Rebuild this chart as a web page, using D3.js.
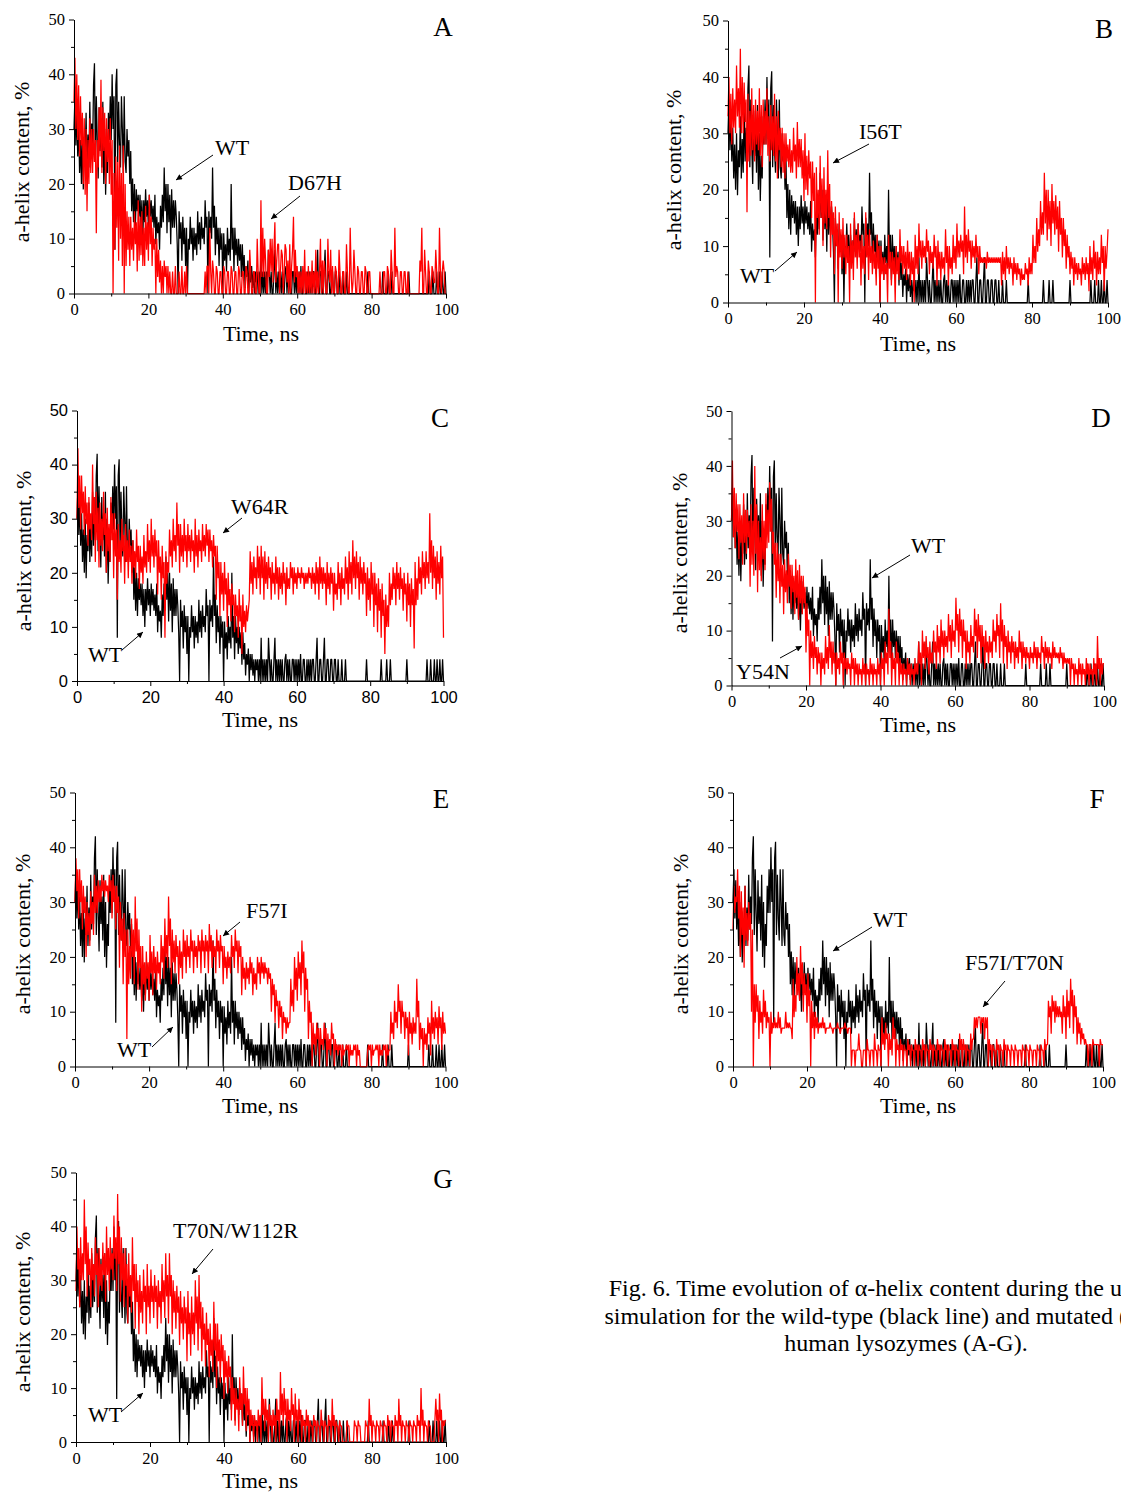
<!DOCTYPE html>
<html>
<head>
<meta charset="utf-8">
<script src="https://cdn.jsdelivr.net/npm/d3@7"></script>
<style>
  html, body { margin: 0; padding: 0; background: #fff; }
  svg { display: block; }
</style>
</head>
<body>
<svg id="fig" width="1121" height="1492"></svg>
<script>
// Each trace is sampled evenly over the 0-100 ns run (one row = 5 ns).
const runLength = 100;

// Wild-type lysozyme, alpha-helix content (%), shared by all panels
const wt = [
  30,36,27,34,25,31,22,28,20,30,19,27,24,33,22,29,23,35,25,31,
  26,38,42,24,36,28,21,34,26,31,23,35,20,30,18,26,22,33,28,36,
  28,40,30,36,8,38,41,24,35,27,23,36,30,22,36,24,22,30,25,28,
  20,26,15,21,13,20,12,19,15,18,14,18,12,17,10,17,13,19,14,17,
  12,18,14,17,13,16,12,18,9,14,11,13,8,16,12,18,13,23,15,20,
  11,20,13,18,9,19,12,17,12,17,14,9,0,15,10,13,6,14,9,12,
  5,12,0,10,8,14,9,12,6,12,8,11,7,15,9,13,8,14,10,12,
  9,17,12,14,0,15,11,14,10,23,12,16,7,14,9,12,5,12,8,11,
  0,11,6,9,4,12,7,10,6,20,8,12,4,12,7,10,5,10,6,9,
  3,9,4,7,1,5,3,6,0,5,2,5,1,4,0,4,2,4,0,4,
  0,8,0,4,0,4,0,4,0,8,4,0,4,0,0,4,8,0,4,0,
  4,0,4,0,4,0,0,4,5,0,4,0,4,0,0,4,4,0,4,0,
  4,0,4,0,5,0,0,4,4,0,0,4,0,4,0,4,0,4,4,0,
  0,4,8,0,0,4,4,0,0,4,8,0,0,4,4,0,0,4,4,0,
  0,4,4,0,0,4,0,0,0,4,0,0,0,4,0,0,0,0,0,0,
  0,0,0,0,0,0,0,0,0,0,0,0,0,0,0,0,4,0,0,0,
  0,0,0,0,0,0,0,0,0,0,0,0,4,0,0,0,0,0,4,0,
  0,0,4,0,0,0,0,0,0,0,0,0,0,0,0,0,0,0,0,0,
  4,0,0,0,0,0,0,0,0,0,0,0,0,0,0,0,0,0,0,0,
  0,0,4,0,0,0,4,0,0,0,4,0,0,4,0,0,4,0,0,4,
  0
];

// Mutant lysozymes
const d67h = [
  35,43,30,40,28,38,25,36,27,33,20,32,18,30,15,28,20,32,22,30,
  22,30,24,28,11,28,23,34,25,39,22,34,26,33,20,32,24,30,20,32,
  18,28,0,22,8,25,12,24,6,27,10,22,5,27,0,20,5,15,8,14,
  5,14,8,12,6,15,9,13,4,17,6,14,7,15,5,12,5,16,8,13,
  6,18,9,14,5,12,8,10,0,10,3,8,2,6,0,5,0,6,3,5,
  0,5,0,4,0,0,4,0,0,5,0,0,0,4,0,0,5,0,0,4,
  0,5,0,0,0,0,0,0,0,0,0,0,0,0,0,0,0,0,0,0,
  0,4,0,5,5,0,12,4,0,6,4,0,0,5,4,0,0,4,4,0,
  0,5,4,0,0,4,4,0,0,5,4,0,0,4,4,0,0,5,4,0,
  0,4,4,0,0,5,4,0,0,8,4,0,0,4,4,0,0,10,4,0,
  0,17,3,12,3,10,6,0,0,8,3,10,4,10,2,8,13,2,6,9,
  9,0,4,8,7,0,4,9,8,2,6,0,9,0,5,8,14,2,8,3,
  5,0,4,0,4,0,5,0,8,0,4,0,5,0,4,0,6,0,4,0,
  8,0,4,0,4,10,0,6,0,6,4,0,0,10,4,2,8,0,5,0,
  0,5,4,0,0,8,4,0,0,4,4,0,0,9,4,0,0,12,4,0,
  2,8,4,0,0,5,4,0,0,4,4,0,0,5,4,0,0,4,4,0,
  0,0,0,0,0,0,0,0,0,4,0,0,0,4,4,0,0,5,4,0,
  0,8,4,0,0,12,3,5,4,0,0,4,4,0,0,4,4,0,0,4,
  0,0,0,0,0,0,0,0,0,0,0,0,6,4,12,0,0,8,4,0,
  0,6,4,0,0,5,4,2,2,8,4,0,0,12,4,0,4,6,4,0,
  0
];

const i56t = [
  33,40,30,37,28,38,31,36,30,42,33,38,31,45,30,40,30,39,32,36,
  16,37,25,34,26,38,27,35,25,36,28,34,27,38,26,35,24,36,28,34,
  28,38,26,33,25,35,27,33,26,37,25,33,22,34,27,31,24,31,23,30,
  22,30,25,28,24,29,23,27,23,31,25,28,22,32,24,29,24,29,22,27,
  18,30,20,26,19,27,22,25,15,25,18,23,0,24,15,20,12,26,15,22,
  10,24,14,20,13,27,15,21,8,18,12,16,5,17,10,14,0,16,8,13,
  6,15,8,12,5,12,7,10,0,14,6,11,4,16,8,12,6,14,8,11,
  3,12,6,10,5,16,8,12,4,13,7,10,5,11,6,9,3,12,6,10,
  0,10,5,8,4,8,5,7,0,12,6,9,3,9,5,8,0,10,5,8,
  4,13,7,10,5,10,6,9,4,11,6,9,3,9,5,8,0,12,6,10,
  5,14,8,11,6,11,8,10,7,13,9,11,5,10,7,9,6,12,8,10,
  3,11,6,9,4,9,6,8,5,13,7,10,3,10,6,8,5,12,7,10,
  6,14,8,11,8,12,9,11,5,17,8,12,7,13,9,11,6,11,8,10,
  7,12,8,10,5,10,7,8,7,8,7,8,6,9,7,8,7,8,7,8,
  7,8,7,8,7,8,7,8,3,9,5,8,4,10,6,8,5,8,6,7,
  3,8,5,7,4,7,5,6,3,6,4,5,4,7,5,6,3,8,5,7,
  5,12,7,10,7,15,9,13,10,18,12,16,12,23,14,20,11,20,13,18,
  10,21,14,18,12,19,13,17,9,18,12,15,8,15,10,13,6,12,8,10,
  5,9,6,8,3,8,5,7,4,7,5,6,3,8,5,7,4,8,5,7,
  2,10,5,8,4,11,6,9,3,9,5,8,5,12,7,10,2,10,6,9,
  13
];

const w64r = [
  30,43,32,38,28,38,31,35,27,36,29,33,25,34,28,31,26,40,29,34,
  22,35,26,32,21,33,25,30,24,35,27,31,20,32,24,29,22,34,26,31,
  19,31,23,28,15,29,22,26,20,30,24,27,18,29,22,26,19,28,22,25,
  18,26,21,24,19,28,22,25,17,25,20,23,18,27,21,24,20,29,22,26,
  20,30,23,27,21,28,23,26,16,26,20,23,15,25,19,22,8,24,18,22,
  20,28,23,26,21,30,24,27,22,33,25,29,20,29,23,27,22,30,24,27,
  21,29,24,27,22,28,24,26,20,30,23,27,21,28,24,26,22,29,24,27,
  23,29,25,28,22,28,24,26,21,27,23,25,15,25,19,22,12,22,16,20,
  13,22,16,19,10,20,14,17,11,18,14,16,9,16,12,14,8,17,11,14,
  5,16,10,13,9,14,11,13,15,24,18,22,16,23,19,21,17,25,19,23,
  16,25,19,23,15,24,18,22,17,23,19,21,15,22,18,20,16,23,18,21,
  15,21,17,20,16,22,18,20,14,21,17,19,17,22,19,21,16,21,18,20,
  17,21,19,20,18,21,19,20,17,20,18,20,18,21,19,20,17,21,18,20,
  16,22,18,21,15,23,18,21,17,21,18,20,14,22,17,20,16,21,18,20,
  13,20,16,18,15,22,17,20,14,21,17,19,16,23,18,21,15,24,18,22,
  16,26,19,23,17,24,19,22,15,23,18,21,16,22,18,20,12,21,15,19,
  13,22,16,20,10,20,14,18,9,19,13,17,8,18,12,15,5,16,10,14,
  10,20,14,18,15,21,17,20,14,22,17,20,15,21,17,19,13,20,16,18,
  11,20,14,18,10,19,14,17,6,22,14,19,15,23,18,21,16,24,19,22,
  17,24,19,22,18,31,20,26,17,25,19,23,15,24,18,22,16,25,19,23,
  8
];

const y54n = [
  30,41,27,36,25,35,28,33,23,33,26,31,22,35,26,32,24,32,27,30,
  18,33,22,30,20,40,24,33,17,30,21,27,19,33,23,30,21,35,25,32,
  26,37,28,34,24,28,22,26,16,26,19,24,15,24,18,22,13,23,17,21,
  15,24,18,22,14,22,17,20,13,23,16,21,12,22,15,20,13,20,15,18,
  6,15,9,12,0,10,5,8,3,9,5,7,2,7,4,6,0,6,3,5,
  2,9,4,7,3,11,5,8,2,8,4,6,0,6,3,5,2,8,4,6,
  0,6,3,5,2,5,3,4,0,6,3,5,0,5,2,4,0,4,2,3,
  0,5,2,4,0,4,2,3,0,5,2,4,0,4,2,3,0,5,2,4,
  0,6,3,5,0,8,4,6,2,14,5,8,0,6,3,5,0,8,4,6,
  0,5,2,4,0,4,2,3,0,5,2,4,0,4,2,3,0,5,2,4,
  2,8,4,6,0,10,5,8,3,9,5,7,2,8,4,6,4,10,6,8,
  3,11,6,9,4,12,7,10,5,10,7,9,6,13,8,11,5,12,8,10,
  7,16,10,13,6,14,9,12,5,12,8,10,3,10,6,8,4,11,7,9,
  6,14,9,12,5,13,8,11,4,11,7,9,3,10,6,8,4,9,6,8,
  5,12,8,10,6,13,9,11,5,15,8,12,4,11,7,9,3,10,6,8,
  4,9,6,8,3,8,5,7,4,10,6,8,3,8,5,7,4,7,5,6,
  3,7,5,6,4,8,5,7,3,7,5,6,4,9,6,7,3,8,5,7,
  4,7,5,6,3,8,5,7,5,6,5,6,4,7,5,6,3,6,4,5,
  4,5,4,5,0,5,3,4,0,4,2,3,0,5,2,4,0,4,2,3,
  0,5,2,4,0,4,2,3,0,5,2,4,0,9,3,5,0,5,2,4,
  4
];

const f57i = [
  30,38,32,36,27,36,30,34,25,33,28,31,20,30,24,28,22,32,26,30,
  24,35,28,33,28,34,30,33,30,35,32,34,31,34,32,33,30,35,32,34,
  27,35,30,33,25,33,28,31,18,30,23,27,15,28,20,25,5,25,15,22,
  16,27,20,25,15,31,21,27,14,25,18,22,10,22,15,19,12,21,16,19,
  12,24,17,21,13,22,17,20,14,21,17,19,15,24,19,22,16,27,20,24,
  18,31,22,27,15,25,19,23,17,24,20,22,15,23,18,21,16,25,20,23,
  17,24,20,22,18,25,21,23,17,23,20,22,18,24,21,23,17,25,21,23,
  18,24,21,23,17,26,21,24,18,23,20,22,17,25,21,23,18,24,21,22,
  15,22,18,20,16,21,18,20,17,24,20,22,18,25,21,23,17,23,20,22,
  13,20,16,18,14,19,16,18,15,20,17,19,13,18,15,17,14,20,17,19,
  15,20,17,19,16,19,17,18,15,18,16,17,10,16,13,15,8,14,11,12,
  7,12,9,11,5,10,8,9,6,9,7,8,8,16,11,14,10,20,14,18,
  12,21,16,19,13,23,17,21,10,18,14,16,5,12,8,10,0,8,4,6,
  2,8,5,7,0,7,4,5,3,8,5,7,0,6,3,5,2,8,5,6,
  0,5,3,4,2,4,3,4,0,4,2,3,3,4,3,4,0,4,2,3,
  2,4,3,4,0,4,2,3,0,0,0,0,0,0,0,0,3,4,3,4,
  0,4,2,3,3,4,3,4,0,4,2,3,2,4,3,4,0,4,2,3,
  3,10,6,8,5,12,8,10,7,15,10,12,6,12,9,10,5,10,7,9,
  2,10,6,8,4,9,6,8,6,16,9,12,3,8,5,7,0,7,4,6,
  3,9,6,8,2,12,6,9,5,10,7,9,4,11,7,9,3,10,6,8,
  6
];

const f57iT70n = [
  25,33,28,31,30,36,27,33,20,32,24,29,18,33,23,28,22,30,25,28,
  10,25,0,15,8,15,10,13,5,12,8,10,6,14,9,12,7,10,8,9,
  0,10,6,8,7,9,7,8,7,10,7,9,6,7,7,7,7,10,7,8,
  7,8,7,7,5,16,9,13,10,20,13,17,12,22,15,19,10,17,13,15,
  8,17,11,14,0,12,7,10,5,10,7,9,6,8,7,8,7,9,7,8,
  6,7,7,7,7,8,7,7,6,7,7,7,7,8,7,7,6,7,7,7,
  7,8,7,7,6,7,7,7,0,3,3,3,0,3,3,3,6,3,3,0,
  0,3,3,3,0,5,3,3,0,3,3,3,0,6,3,3,0,4,3,3,
  0,9,4,6,3,8,5,6,0,6,3,5,2,9,5,7,0,5,3,4,
  0,5,3,4,0,4,3,3,0,5,3,4,0,4,3,3,0,5,3,4,
  0,4,3,3,0,5,3,4,0,4,3,3,0,5,3,4,0,4,3,3,
  0,5,3,4,0,4,3,3,0,5,3,4,0,4,3,3,0,5,3,4,
  0,4,3,3,0,6,3,5,0,5,3,4,0,4,3,3,0,6,3,5,
  5,9,7,9,7,9,9,9,6,9,8,9,5,9,7,9,0,5,3,4,
  0,4,3,3,0,5,3,4,0,4,3,3,0,5,3,4,0,4,3,3,
  0,4,3,3,0,4,3,3,0,3,3,3,0,4,3,3,0,4,3,3,
  0,4,3,3,0,3,3,3,0,4,3,3,0,4,3,3,0,5,3,4,
  4,12,9,11,6,13,10,12,8,12,9,11,9,11,9,10,6,13,9,11,
  5,14,9,12,7,16,11,14,6,13,9,11,4,9,6,8,4,7,5,6,
  4,5,4,4,0,4,4,4,0,5,4,4,4,4,4,4,0,5,4,4,
  4
];

const t70nW112r = [
  28,40,32,36,25,38,30,35,30,45,33,40,27,37,31,34,25,36,30,33,
  27,38,31,35,25,36,29,33,28,37,31,35,26,40,31,36,28,38,32,35,
  30,42,34,38,28,46,33,40,26,38,30,35,25,36,29,33,22,35,27,31,
  24,38,28,33,21,33,26,30,20,31,24,28,22,32,26,29,20,33,25,29,
  22,32,26,29,23,31,26,29,21,30,25,28,22,33,26,30,23,35,27,31,
  22,35,27,31,20,30,24,28,21,29,24,27,18,28,22,25,19,27,22,25,
  15,28,20,24,16,27,20,24,18,30,22,27,17,31,21,26,15,25,19,22,
  14,24,18,21,12,22,16,19,13,26,17,22,10,22,15,19,11,20,15,18,
  8,17,12,15,9,16,12,14,4,12,7,10,3,10,6,8,2,12,6,9,
  3,14,7,10,2,10,5,8,0,6,3,5,0,5,3,4,0,6,3,5,
  0,12,5,8,2,8,4,6,0,7,3,5,0,6,3,5,0,8,4,6,
  0,13,5,9,3,10,5,8,0,8,4,6,2,10,5,7,0,9,4,6,
  0,8,4,6,0,5,3,4,0,6,3,5,0,4,3,3,0,5,3,4,
  0,4,3,3,0,6,3,4,0,4,3,3,0,5,3,4,0,8,3,5,
  0,4,3,3,0,4,3,3,0,0,0,0,0,4,3,3,0,0,0,0,
  0,4,3,3,0,4,3,3,0,0,0,0,0,4,3,3,0,8,3,5,
  0,4,3,3,0,4,3,3,0,4,3,3,0,4,3,3,0,5,3,4,
  0,4,3,3,0,5,3,4,0,8,3,5,0,4,3,3,0,4,3,3,
  0,4,3,3,0,4,3,3,0,5,3,4,0,10,3,6,0,4,3,3,
  0,4,3,3,0,0,0,0,4,8,4,6,0,9,4,6,0,4,3,4,
  4
];

// Panel letters and mutant names
const panelLetters = ["A", "B", "C", "D", "E", "F", "G"];
const mutantNames = ["D67H", "I56T", "W64R", "Y54N", "F57I", "F57I/T70N", "T70N/W112R"];
const mutantSeries = [d67h, i56t, w64r, y54n, f57i, f57iT70n, t70nW112r];

// Axis ticks
const xMajor = [0, 20, 40, 60, 80, 100];
const xMinor = [10, 30, 50, 70, 90];
const yMajor = [0, 10, 20, 30, 40, 50];
const yMinor = [5, 15, 25, 35, 45];

const xTitle = "Time, ns";
const yTitle = "a-helix content, %";
const captionLines = [
  "Fig. 6. Time evolution of \u03b1-helix content during the unfolding",
  "simulation for the wild-type (black line) and mutated (red line)",
  "human lysozymes (A-G)."
];

// Frame of each panel on the page plus label placement
const layout = [
  { x0: 74,  x1: 446,  y0: 293.5, y1: 19.5,
    letter: [443, 36], xt: [261, 341], yt: [29, 162],
    notes: [ { text: "WT", tx: 215, ty: 155, from: [213, 155], to: [176, 180] },
             { text: "D67H", tx: 288, ty: 190, from: [300, 196], to: [271, 219] } ] },
  { x0: 728, x1: 1108, y0: 302.5, y1: 20.5,
    letter: [1104, 38], xt: [918, 351], yt: [681, 170],
    notes: [ { text: "I56T", tx: 859, ty: 139, from: [869, 144], to: [833, 163] },
             { text: "WT", tx: 740, ty: 283, from: [775, 271], to: [797, 252] } ] },
  { x0: 77,  x1: 443.5, y0: 681, y1: 410.5, sans: true,
    letter: [440, 427], xt: [260, 727], yt: [31, 551],
    notes: [ { text: "W64R", tx: 231, ty: 514, from: [242, 518], to: [223, 533] },
             { text: "WT", tx: 88, ty: 662, from: [122, 650], to: [143, 632] } ] },
  { x0: 731.5, x1: 1104, y0: 685.5, y1: 411,
    letter: [1101, 427], xt: [918, 732], yt: [687, 553],
    notes: [ { text: "WT", tx: 911, ty: 553, from: [910, 555], to: [872, 578] },
             { text: "Y54N", tx: 736, ty: 679, from: [780, 658], to: [802, 646] } ] },
  { x0: 75,  x1: 445.5, y0: 1066.5, y1: 792.5,
    letter: [441, 808], xt: [260, 1113], yt: [30, 934],
    notes: [ { text: "F57I", tx: 246, ty: 918, from: [240, 922], to: [223, 936] },
             { text: "WT", tx: 117, ty: 1057, from: [152, 1047], to: [173, 1027] } ] },
  { x0: 733, x1: 1103, y0: 1066.5, y1: 792.5,
    letter: [1097, 808], xt: [918, 1113], yt: [688, 934],
    notes: [ { text: "WT", tx: 873, ty: 927, from: [872, 927], to: [833, 951] },
             { text: "F57I/T70N", tx: 965, ty: 970, from: [1005, 981], to: [983, 1007] } ] },
  { x0: 76,  x1: 446, y0: 1442, y1: 1172.5,
    letter: [443, 1188], xt: [260, 1488], yt: [30, 1312],
    notes: [ { text: "T70N/W112R", tx: 173, ty: 1238, from: [213, 1249], to: [192, 1274] },
             { text: "WT", tx: 88, ty: 1422, from: [121, 1412], to: [143, 1393] } ] }
];

const serif = "'Liberation Serif', 'Times New Roman', serif";
const sans = "'Liberation Sans', Arial, sans-serif";

const svg = d3.select("#fig");
svg.append("rect").attr("width", 1121).attr("height", 1492).attr("fill", "#fff");

svg.append("defs").append("marker")
  .attr("id", "arrowhead")
  .attr("viewBox", "0 0 10 10")
  .attr("refX", 10).attr("refY", 5)
  .attr("markerWidth", 9).attr("markerHeight", 6)
  .attr("markerUnits", "userSpaceOnUse")
  .attr("orient", "auto")
  .append("path").attr("d", "M0,0 L10,5 L0,10 z").attr("fill", "#000");

layout.forEach((p, k) => {
  const g = svg.append("g");
  const x = d3.scaleLinear().domain([0, runLength]).range([p.x0, p.x1]);
  const y = d3.scaleLinear().domain([0, 50]).range([p.y0, p.y1]);
  const tickFont = p.sans ? sans : serif;

  // time of sample i in a trace of n samples
  const line = (series) => d3.line()
    .x((d, i) => x(i * runLength / (series.length - 1)))
    .y(d => y(d))(series);

  // wild-type first, mutant drawn over it
  g.append("path").attr("d", line(wt)).attr("fill", "none")
    .attr("stroke", "#000").attr("stroke-width", 1.25).attr("stroke-linejoin", "bevel");
  g.append("path").attr("d", line(mutantSeries[k])).attr("fill", "none")
    .attr("stroke", "#ff0000").attr("stroke-width", 1.25).attr("stroke-linejoin", "bevel");

  // axes
  const ax = g.append("g").attr("transform", `translate(0,${p.y0})`)
    .call(d3.axisBottom(x).tickValues(xMajor).tickFormat(d3.format("d"))
      .tickSize(5).tickSizeOuter(0).tickPadding(5));
  g.append("g").attr("transform", `translate(0,${p.y0})`)
    .call(d3.axisBottom(x).tickValues(xMinor).tickFormat("").tickSize(3).tickSizeOuter(0))
    .select(".domain").remove();
  const ay = g.append("g").attr("transform", `translate(${p.x0},0)`)
    .call(d3.axisLeft(y).tickValues(yMajor).tickFormat(d3.format("d"))
      .tickSize(5).tickSizeOuter(0).tickPadding(4));
  g.append("g").attr("transform", `translate(${p.x0},0)`)
    .call(d3.axisLeft(y).tickValues(yMinor).tickFormat("").tickSize(3).tickSizeOuter(0))
    .select(".domain").remove();

  [ax, ay].forEach(a => {
    a.attr("font-family", tickFont).attr("font-size", 16.5);
    a.selectAll("text").attr("fill", "#000");
    a.selectAll("line,path").attr("stroke", "#000");
  });

  // panel letter
  g.append("text").attr("x", p.letter[0]).attr("y", p.letter[1])
    .attr("text-anchor", "middle").attr("font-family", serif).attr("font-size", 27)
    .text(panelLetters[k]);

  // axis titles
  g.append("text").attr("x", p.xt[0]).attr("y", p.xt[1])
    .attr("text-anchor", "middle").attr("font-family", serif).attr("font-size", 22)
    .text(xTitle);
  g.append("text")
    .attr("transform", `translate(${p.yt[0]},${p.yt[1]}) rotate(-90)`)
    .attr("text-anchor", "middle").attr("font-family", serif).attr("font-size", 22)
    .text(yTitle);

  // series annotations
  p.notes.forEach(n => {
    g.append("text").attr("x", n.tx).attr("y", n.ty)
      .attr("font-family", serif).attr("font-size", 22)
      .text(n.text === "WT" ? "WT" : mutantNames[k]);
    g.append("line")
      .attr("x1", n.from[0]).attr("y1", n.from[1])
      .attr("x2", n.to[0]).attr("y2", n.to[1])
      .attr("stroke", "#000").attr("stroke-width", 1)
      .attr("marker-end", "url(#arrowhead)");
  });
});

// figure caption
svg.append("g").selectAll("text").data(captionLines).join("text")
  .attr("x", 906).attr("y", (d, i) => 1296 + i * 27.5)
  .attr("text-anchor", "middle").attr("font-family", serif).attr("font-size", 24)
  .text(d => d);
</script>
</body>
</html>
